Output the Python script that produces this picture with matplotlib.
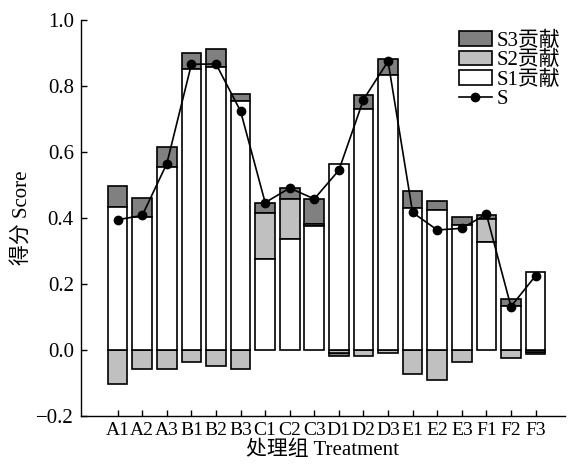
import numpy as np
import matplotlib
matplotlib.use('Agg')
import matplotlib.pyplot as plt

plt.rcParams['font.family'] = ['Liberation Serif', 'Noto Sans CJK SC']
plt.rcParams['axes.unicode_minus'] = True

labels = ['A1', 'A2', 'A3', 'B1', 'B2', 'B3', 'C1', 'C2', 'C3',
          'D1', 'D2', 'D3', 'E1', 'E2', 'E3', 'F1', 'F2', 'F3']
s1 = [0.433, 0.404, 0.556, 0.852, 0.858, 0.755, 0.275, 0.338, 0.375,
      0.563, 0.729, 0.832, 0.432, 0.424, 0.378, 0.329, 0.133, 0.237]
s2 = [-0.104, -0.056, -0.056, -0.037, -0.047, -0.056, 0.139, 0.119, 0.008,
      -0.009, -0.018, -0.010, -0.071, -0.091, -0.037, 0.067, -0.023, -0.006]
s3 = [0.064, 0.057, 0.060, 0.047, 0.053, 0.021, 0.033, 0.034, 0.075,
      -0.009, 0.045, 0.049, 0.051, 0.028, 0.025, 0.014, 0.021, -0.006]
s = [0.395, 0.408, 0.565, 0.866, 0.867, 0.724, 0.447, 0.491, 0.458,
     0.545, 0.759, 0.875, 0.417, 0.364, 0.369, 0.412, 0.132, 0.225]

x = np.arange(len(labels))
s1 = np.array(s1)
s2 = np.array(s2)
s3 = np.array(s3)

# positive parts stack upward on S1, negative parts stack downward from 0
b2 = np.where(s2 >= 0, s1, 0.0)
pos_top = s1 + np.clip(s2, 0, None)
b3 = np.where(s3 >= 0, pos_top, np.clip(s2, None, 0))

fig = plt.figure(figsize=(5.69, 4.66), dpi=100)
ax = fig.add_axes([0.142, 0.107, 0.851, 0.850])

w = 0.8
ec = 'black'
lw = 1.2
fs = 15
h3 = ax.bar(x, s3, w, bottom=b3, color='#808080', edgecolor=ec, linewidth=lw, label='S3贡献')
h2 = ax.bar(x, s2, w, bottom=b2, color='#c0c0c0', edgecolor=ec, linewidth=lw, label='S2贡献')
h1 = ax.bar(x, s1, w, color='white', edgecolor=ec, linewidth=lw, label='S1贡献')
hl, = ax.plot(x, s, color='black', marker='o', markersize=6, linewidth=1.2, label='S', zorder=5)

ax.set_xlim(-1.5, 18.2)
ax.set_ylim(-0.2, 1.0)
ax.set_yticks([-0.2, 0.0, 0.2, 0.4, 0.6, 0.8, 1.0])
ax.set_yticklabels(['−0.2', '0.0', '0.2', '0.4', '0.6', '0.8', '1.0'])
ax.set_xticks(x)
ax.set_xticklabels(labels)
ax.tick_params(direction='in', width=1, length=4)
ax.tick_params(axis='x', pad=4, labelsize=14)
ax.tick_params(axis='y', pad=5, labelsize=fs)
for sp in ['top', 'right']:
    ax.spines[sp].set_visible(False)
for sp in ['left', 'bottom']:
    ax.spines[sp].set_linewidth(1.0)

ax.set_ylabel('得分 Score', fontsize=fs, labelpad=3)
ax.set_xlabel('处理组 Treatment', fontsize=15, labelpad=1)

ax.legend(handles=[h3, h2, h1, hl], loc='upper right', bbox_to_anchor=(1.0, 0.983),
          frameon=False, fontsize=fs, handlelength=1.6, handleheight=0.7,
          labelspacing=0.0, handletextpad=0.25, borderaxespad=0.0, borderpad=0.2)

fig.savefig('out.png', dpi=100)
